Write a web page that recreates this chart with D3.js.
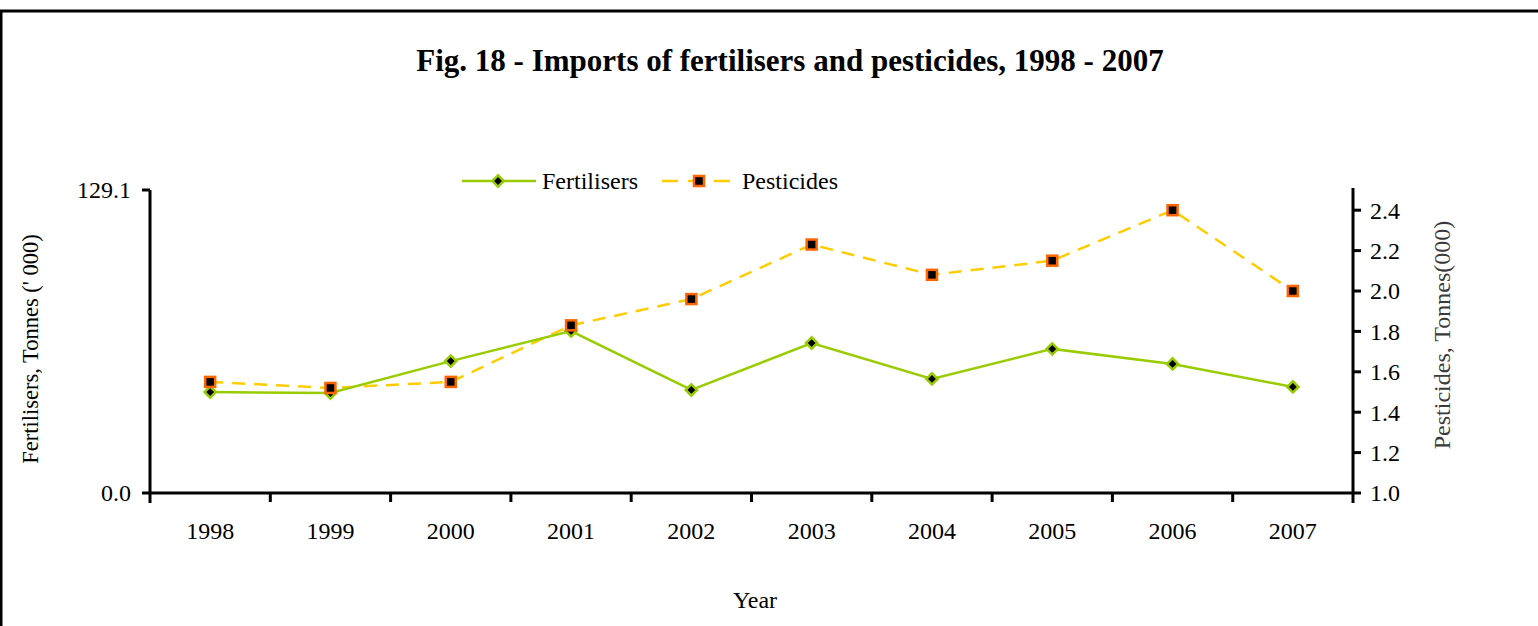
<!DOCTYPE html>
<html>
<head>
<meta charset="utf-8">
<script src="https://cdn.jsdelivr.net/npm/d3@7"></script>
<style>
  body { margin: 0; background: #fff; }
  svg text { font-family: "Liberation Serif", "Times New Roman", serif; fill: #000; }
</style>
</head>
<body>
<div id="chart"></div>
<script>
// chart data
const years = ['1998', '1999', '2000', '2001', '2002', '2003', '2004', '2005', '2006', '2007'];
const fertilisers = [43.0, 42.6, 56.2, 69.0, 43.9, 63.9, 48.6, 61.4, 55.0, 45.2];
const pesticides = [1.55, 1.52, 1.55, 1.83, 1.96, 2.23, 2.08, 2.15, 2.40, 2.00];
const leftTicks = [0, 129.1];
const rightTicks = [1.0, 1.2, 1.4, 1.6, 1.8, 2.0, 2.2, 2.4];

const width = 1538, height = 626;
const margin = { top: 190, right: 185, bottom: 133, left: 150 };
const innerW = width - margin.left - margin.right;
const innerH = height - margin.top - margin.bottom;

const svg = d3.select('#chart').append('svg')
  .attr('width', width)
  .attr('height', height);

// outer frame (only top and left edges show in the window)
svg.append('rect')
  .attr('x', 1).attr('y', 11)
  .attr('width', width + 20).attr('height', height + 20)
  .attr('fill', 'none').attr('stroke', '#000').attr('stroke-width', 3);

svg.append('text')
  .attr('x', 790).attr('y', 71)
  .attr('text-anchor', 'middle')
  .style('font-size', '31px').style('font-weight', 'bold')
  .text('Fig. 18 - Imports of fertilisers and pesticides, 1998 - 2007');

const chart = svg.append('g')
  .attr('transform', `translate(${margin.left},${margin.top})`);

const x = d3.scaleBand().domain(years).range([0, innerW]);
const yL = d3.scaleLinear().domain([0, 129.1]).range([innerH, 0]);
const yR = d3.scaleLinear().domain([1.0, 2.5]).range([innerH, 0]);

// x axis: ticks at category boundaries
const xAxis = chart.append('g').attr('transform', `translate(0,${innerH})`);
xAxis.append('line')
  .attr('x1', 0).attr('x2', innerW)
  .attr('stroke', '#000').attr('stroke-width', 3);
xAxis.selectAll('.xtick')
  .data(years.slice(1))
  .join('line')
  .attr('class', 'xtick')
  .attr('x1', d => x(d)).attr('x2', d => x(d))
  .attr('y1', 0).attr('y2', 9)
  .attr('stroke', '#000').attr('stroke-width', 3);
xAxis.selectAll('.xlabel')
  .data(years)
  .join('text')
  .attr('class', 'xlabel')
  .attr('x', d => x(d) + x.bandwidth() / 2)
  .attr('y', 46)
  .attr('text-anchor', 'middle')
  .style('font-size', '24px')
  .text(d => d);

// left axis
const left = chart.append('g');
left.append('line')
  .attr('x1', 0).attr('x2', 0).attr('y1', 0).attr('y2', innerH + 10)
  .attr('stroke', '#000').attr('stroke-width', 3);
left.selectAll('.ltick')
  .data(leftTicks)
  .join('line')
  .attr('x1', -8).attr('x2', 0)
  .attr('y1', d => yL(d)).attr('y2', d => yL(d))
  .attr('stroke', '#000').attr('stroke-width', 3);
left.selectAll('.llabel')
  .data(leftTicks)
  .join('text')
  .attr('x', -19)
  .attr('y', d => yL(d))
  .attr('dy', '0.35em')
  .attr('text-anchor', 'end')
  .style('font-size', '24px')
  .text(d => d.toFixed(1));

// right axis
const right = chart.append('g').attr('transform', `translate(${innerW},0)`);
right.append('line')
  .attr('x1', 0).attr('x2', 0).attr('y1', -2).attr('y2', innerH + 10)
  .attr('stroke', '#000').attr('stroke-width', 3);
right.selectAll('.rtick')
  .data(rightTicks)
  .join('line')
  .attr('x1', 0).attr('x2', 8)
  .attr('y1', d => yR(d)).attr('y2', d => yR(d))
  .attr('stroke', '#000').attr('stroke-width', 3);
right.selectAll('.rlabel')
  .data(rightTicks)
  .join('text')
  .attr('x', 17)
  .attr('y', d => yR(d))
  .attr('dy', '0.35em')
  .style('font-size', '24px')
  .text(d => d.toFixed(1));

// axis titles
svg.append('text')
  .attr('transform', 'translate(38,349) rotate(-90)')
  .attr('text-anchor', 'middle')
  .style('font-size', '22.5px')
  .text("Fertilisers, Tonnes (' 000)");
svg.append('text')
  .attr('transform', 'translate(1450,335) rotate(-90)')
  .attr('text-anchor', 'middle')
  .style('font-size', '24px')
  .style('fill', '#3a3a3a')
  .text('Pesticides, Tonnes(000)');
svg.append('text')
  .attr('x', 755).attr('y', 608)
  .attr('text-anchor', 'middle')
  .style('font-size', '24px')
  .text('Year');

const cx = d => x(d) + x.bandwidth() / 2;

// pesticides line (dashed, right axis)
chart.append('path')
  .datum(years.map((d, i) => [cx(d), yR(pesticides[i])]))
  .attr('d', d3.line())
  .attr('fill', 'none')
  .attr('stroke', '#FFCC00')
  .attr('stroke-width', 2.5)
  .attr('stroke-dasharray', '13,9');

// fertilisers line (solid, left axis)
chart.append('path')
  .datum(years.map((d, i) => [cx(d), yL(fertilisers[i])]))
  .attr('d', d3.line())
  .attr('fill', 'none')
  .attr('stroke', '#99CC00')
  .attr('stroke-width', 2.5);

const diamond = d3.symbol().type(d3.symbolSquare).size(64);

chart.selectAll('.fert-marker')
  .data(years)
  .join('path')
  .attr('class', 'fert-marker')
  .attr('transform', (d, i) => `translate(${cx(d)},${yL(fertilisers[i])}) rotate(45)`)
  .attr('d', diamond)
  .attr('fill', '#000')
  .attr('stroke', '#99CC00')
  .attr('stroke-width', 2.5);

chart.selectAll('.pest-marker')
  .data(years)
  .join('rect')
  .attr('class', 'pest-marker')
  .attr('x', (d) => cx(d) - 5)
  .attr('y', (d, i) => yR(pesticides[i]) - 5)
  .attr('width', 10).attr('height', 10)
  .attr('fill', '#000')
  .attr('stroke', '#FF6600')
  .attr('stroke-width', 2.5);

// legend
const legend = svg.append('g').attr('transform', 'translate(0,181)');
legend.append('line')
  .attr('x1', 462).attr('x2', 536)
  .attr('stroke', '#99CC00').attr('stroke-width', 2.5);
legend.append('path')
  .attr('transform', 'translate(498,0) rotate(45)')
  .attr('d', diamond)
  .attr('fill', '#000').attr('stroke', '#99CC00').attr('stroke-width', 2.5);
legend.append('text')
  .attr('x', 542).attr('y', 0).attr('dy', '0.35em')
  .style('font-size', '24px')
  .text('Fertilisers');
legend.append('line')
  .attr('x1', 662).attr('x2', 736)
  .attr('stroke', '#FFCC00').attr('stroke-width', 2.5)
  .attr('stroke-dasharray', '16,10');
legend.append('rect')
  .attr('x', 694).attr('y', -5).attr('width', 10).attr('height', 10)
  .attr('fill', '#000').attr('stroke', '#FF6600').attr('stroke-width', 2.5);
legend.append('text')
  .attr('x', 742).attr('y', 0).attr('dy', '0.35em')
  .style('font-size', '24px')
  .text('Pesticides');
</script>
</body>
</html>
